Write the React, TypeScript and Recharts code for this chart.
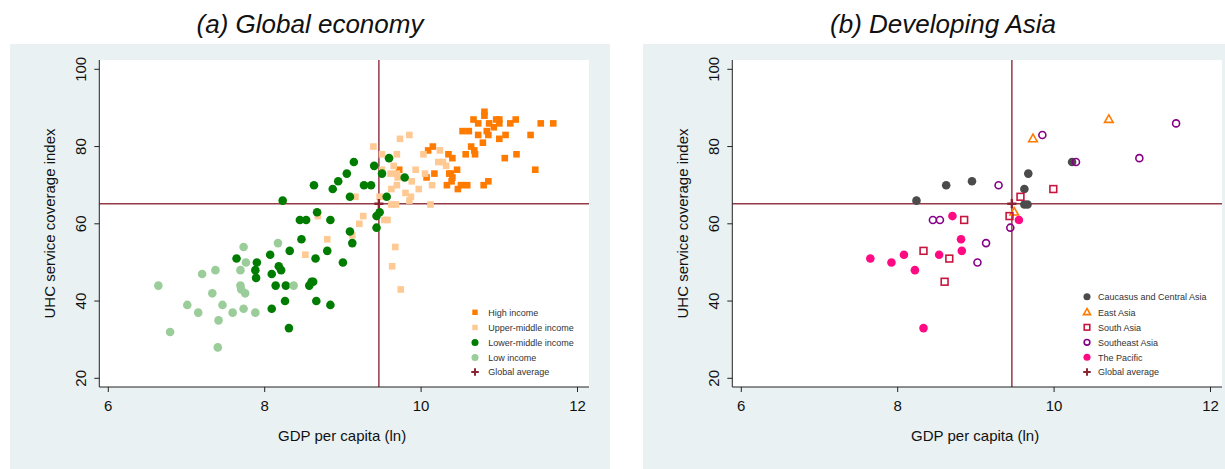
import React from 'react';
import { ScatterChart, Scatter, XAxis, YAxis, ReferenceLine } from 'recharts';

type Pt = [number, number];

// ---------- Data ----------
const xTicks = [6, 8, 10, 12];
const yTicks = [20, 40, 60, 80, 100];
const globalAverage: Pt[] = [[9.46, 65.2]];

// Panel (a) Global economy
const highIncome: Pt[] = [
  [10.81, 89], [10.81, 88], [10.67, 87], [10.96, 87], [11.0, 87], [11.21, 87], [11.53, 86], [11.69, 86],
  [10.73, 86], [10.87, 86], [11.0, 86], [11.14, 86], [10.93, 85], [10.53, 84], [10.61, 84], [10.73, 83],
  [10.86, 83], [10.84, 84], [11.08, 83], [11.4, 83], [11.0, 82], [10.79, 81], [10.64, 80], [10.68, 79],
  [10.69, 78], [10.57, 78], [11.07, 77], [11.22, 78], [10.09, 79], [10.15, 80], [10.35, 78], [10.4, 77],
  [11.46, 74], [9.72, 74], [10.46, 74], [10.17, 73], [10.36, 73], [10.4, 72], [10.07, 72], [10.39, 71],
  [10.33, 70], [10.47, 69], [10.51, 70], [10.59, 70], [10.8, 70], [10.86, 71], [10.38, 73],
];
const upperMiddleIncome: Pt[] = [
  [9.39, 80], [9.5, 78], [9.69, 78], [9.73, 82], [9.85, 83], [10.03, 78], [10.24, 79], [10.22, 76],
  [10.28, 76], [10.32, 75], [9.93, 74], [9.65, 75], [9.5, 74], [9.61, 73], [9.69, 73], [10.05, 73],
  [9.7, 72], [9.88, 71], [9.69, 70], [10.14, 70], [9.62, 69], [9.97, 69], [9.8, 68], [9.87, 67],
  [9.85, 66], [9.62, 65], [9.68, 65], [10.12, 65], [9.16, 67], [9.47, 67], [9.26, 62], [9.21, 60],
  [9.53, 61], [9.57, 61], [9.12, 57], [8.8, 56], [8.68, 62], [8.52, 52], [9.67, 54], [9.63, 49], [9.74, 43],
];
const lowerMiddleIncome: Pt[] = [
  [8.63, 70], [8.94, 71], [8.87, 69], [9.05, 73], [9.14, 76], [9.4, 75], [9.27, 70], [9.36, 70],
  [9.5, 73], [9.59, 77], [9.79, 72], [9.09, 67], [9.56, 67], [8.23, 66], [8.67, 63], [8.45, 61],
  [8.53, 61], [8.84, 61], [9.47, 63], [9.43, 62], [9.43, 59], [9.09, 58], [9.12, 55], [8.47, 56],
  [8.32, 53], [8.8, 53], [8.65, 51], [9.0, 50], [8.07, 52], [7.64, 51], [7.9, 50], [7.88, 48],
  [7.89, 46], [8.09, 47], [8.18, 49], [8.21, 48], [8.14, 44], [8.27, 44], [8.57, 44], [8.6, 45],
  [8.62, 45], [8.26, 40], [8.66, 40], [8.84, 39], [8.09, 38], [8.31, 33],
];
const lowIncome: Pt[] = [
  [6.64, 44], [6.79, 32], [7.01, 39], [7.15, 37], [7.2, 47], [7.33, 42], [7.37, 48], [7.41, 35],
  [7.46, 39], [7.4, 28], [7.59, 37], [7.69, 48], [7.69, 44], [7.7, 43], [7.75, 42], [7.73, 54],
  [7.76, 50], [7.73, 38], [7.88, 37], [8.17, 55], [8.37, 44],
];

// Panel (b) Developing Asia
const caucasusCentralAsia: Pt[] = [
  [8.24, 66], [8.62, 70], [8.95, 71], [9.67, 73], [9.62, 69], [9.62, 65], [9.66, 65], [10.23, 76],
];
const eastAsia: Pt[] = [[9.73, 82], [10.7, 87], [9.49, 63]];
const southAsia: Pt[] = [
  [9.99, 69], [9.57, 67], [9.43, 62], [8.85, 61], [8.33, 53], [8.66, 51], [8.6, 45],
];
const southeastAsia: Pt[] = [
  [9.85, 83], [11.56, 86], [10.28, 76], [11.09, 77], [9.29, 70], [8.45, 61], [8.54, 61], [9.44, 59],
  [9.13, 55], [9.02, 50],
];
const thePacific: Pt[] = [
  [8.7, 62], [9.55, 61], [8.81, 56], [8.82, 53], [8.53, 52], [8.08, 52], [7.65, 51], [7.92, 50],
  [8.22, 48], [8.33, 33],
];

// ---------- Styling ----------
const FONT = '"Liberation Sans", Arial, Helvetica, sans-serif';
const GRAY_BG = '#e9f1f3';
const AVG_LINE = '#943b48';
const AVG_MARK = '#8a2433';
const X_DOMAIN: [number, number] = [5.885, 12.147];
const Y_DOMAIN: [number, number] = [17.75, 102.41];
const PANEL_W = 600;
const PANEL_H = 425;
const PANEL_TOP = 44;
const PLOT_LEFT = 89.3;
const PLOT_TOP = 16;
const PLOT_W = 489.7;
const PLOT_H = 327;
const Y_AXIS_W = 60;
const X_AXIS_H = 30;
const MARGIN = {
  top: PLOT_TOP,
  left: PLOT_LEFT - Y_AXIS_W,
  right: PANEL_W - PLOT_LEFT - PLOT_W,
  bottom: PANEL_H - PLOT_TOP - PLOT_H - X_AXIS_H,
};

type Kind = 'fsquare' | 'fcircle' | 'hcircle' | 'hsquare' | 'htriangle' | 'plus';

const drawMarker = (kind: Kind, color: string, cx: number, cy: number, s = 1) => {
  switch (kind) {
    case 'fsquare': {
      const a = 6.6 * s;
      return <rect x={cx - a / 2} y={cy - a / 2} width={a} height={a} fill={color} />;
    }
    case 'fcircle':
      return <circle cx={cx} cy={cy} r={4.3 * s} fill={color} />;
    case 'hcircle':
      return <circle cx={cx} cy={cy} r={3.5 * s} fill="none" stroke={color} strokeWidth={1.6} />;
    case 'hsquare': {
      const a = 6.8 * s;
      return <rect x={cx - a / 2} y={cy - a / 2} width={a} height={a} fill="none" stroke={color} strokeWidth={1.6} />;
    }
    case 'htriangle': {
      const h = 7.5 * s;
      const w = 8.6 * s;
      const pts = `${cx},${cy - h * 0.62} ${cx + w / 2},${cy + h * 0.38} ${cx - w / 2},${cy + h * 0.38}`;
      return <polygon points={pts} fill="none" stroke={color} strokeWidth={1.6} strokeLinejoin="miter" />;
    }
    case 'plus': {
      const a = 4.6 * s;
      return (
        <g stroke={color} strokeWidth={2.4 * s}>
          <line x1={cx - a} y1={cy} x2={cx + a} y2={cy} />
          <line x1={cx} y1={cy - a} x2={cx} y2={cy + a} />
        </g>
      );
    }
  }
  return null;
};

const shapeOf = (kind: Kind, color: string) => (props: any) =>
  drawMarker(kind, color, props.cx, props.cy);

type Series = { name: string; data: Pt[]; kind: Kind; color: string };

const panelASeries: Series[] = [
  { name: 'High income', data: highIncome, kind: 'fsquare', color: '#ff7b00' },
  { name: 'Upper-middle income', data: upperMiddleIncome, kind: 'fsquare', color: '#ffc994' },
  { name: 'Lower-middle income', data: lowerMiddleIncome, kind: 'fcircle', color: '#007d00' },
  { name: 'Low income', data: lowIncome, kind: 'fcircle', color: '#9acd9a' },
  { name: 'Global average', data: globalAverage, kind: 'plus', color: AVG_MARK },
];
const panelBSeries: Series[] = [
  { name: 'Caucasus and Central Asia', data: caucasusCentralAsia, kind: 'fcircle', color: '#4b4b4b' },
  { name: 'East Asia', data: eastAsia, kind: 'htriangle', color: '#ff7b00' },
  { name: 'South Asia', data: southAsia, kind: 'hsquare', color: '#c8153f' },
  { name: 'Southeast Asia', data: southeastAsia, kind: 'hcircle', color: '#870087' },
  { name: 'The Pacific', data: thePacific, kind: 'fcircle', color: '#ff0a82' },
  { name: 'Global average', data: globalAverage, kind: 'plus', color: AVG_MARK },
];

const XTick = (props: any) => {
  const { x, y, payload } = props;
  return (
    <text x={x} y={y} dy="0.72em" textAnchor="middle" fontSize={15} fill="#111" fontFamily={FONT}>
      {payload.value}
    </text>
  );
};
const YTick = (props: any) => {
  const { x, y, payload } = props;
  return (
    <text x={x} y={y} transform={`rotate(-90 ${x} ${y})`} textAnchor="middle" fontSize={15} fill="#111" fontFamily={FONT}>
      {payload.value}
    </text>
  );
};

type PanelProps = {
  left: number;
  title: string;
  series: Series[];
  legendMarkerX: number;
  legendTextX: number;
  legendRows: number[];
};

const Panel = ({ left, title, series, legendMarkerX, legendTextX, legendRows }: PanelProps) => {
  const avg = globalAverage[0];
  return (
    <>
      <div style={{ position: 'absolute', left, top: PANEL_TOP, width: PANEL_W, height: PANEL_H, background: GRAY_BG }} />
      <div style={{ position: 'absolute', left: left + PLOT_LEFT, top: PANEL_TOP + PLOT_TOP, width: PLOT_W, height: PLOT_H, background: '#fff' }} />
      <div style={{ position: 'absolute', left, top: PANEL_TOP }}>
        <ScatterChart width={PANEL_W} height={PANEL_H} margin={MARGIN}>
          <XAxis
            type="number"
            dataKey="x"
            domain={X_DOMAIN}
            ticks={xTicks}
            allowDataOverflow
            height={X_AXIS_H}
            tickSize={5}
            tickMargin={8}
            stroke="#222"
            tick={<XTick />}
          />
          <YAxis
            type="number"
            dataKey="y"
            domain={Y_DOMAIN}
            ticks={yTicks}
            allowDataOverflow
            width={Y_AXIS_W}
            tickSize={5}
            tickMargin={8}
            stroke="#222"
            tick={<YTick />}
          />
          <ReferenceLine x={avg[0]} stroke={AVG_LINE} strokeWidth={1.5} />
          <ReferenceLine y={avg[1]} stroke={AVG_LINE} strokeWidth={1.5} />
          {series.map((s) => (
            <Scatter
              key={s.name}
              name={s.name}
              data={s.data.map(([x, y]) => ({ x, y }))}
              shape={shapeOf(s.kind, s.color)}
              isAnimationActive={false}
            />
          ))}
        </ScatterChart>
      </div>
      <svg
        style={{ position: 'absolute', left, top: 0, pointerEvents: 'none' }}
        width={PANEL_W}
        height={469}
      >
        <text x={300} y={33} textAnchor="middle" fontSize={26} fontStyle="italic" fill="#111" fontFamily={FONT}>
          {title}
        </text>
        <text
          x={45}
          y={PANEL_TOP + PLOT_TOP + PLOT_H / 2}
          transform={`rotate(-90 45 ${PANEL_TOP + PLOT_TOP + PLOT_H / 2})`}
          textAnchor="middle"
          fontSize={15}
          fill="#111"
          fontFamily={FONT}
        >
          UHC service coverage index
        </text>
        <text x={PLOT_LEFT + PLOT_W / 2 - 2} y={441} textAnchor="middle" fontSize={15} fill="#111" fontFamily={FONT}>
          GDP per capita (ln)
        </text>
        {series.map((s, i) => (
          <g key={s.name}>
            {drawMarker(s.kind, s.color, legendMarkerX - left, legendRows[i], 0.82)}
            <text x={legendTextX - left} y={legendRows[i] + 3.3} fontSize={9} fill="#333" fontFamily={FONT}>
              {s.name}
            </text>
          </g>
        ))}
      </svg>
    </>
  );
};

export default function App() {
  return (
    <div style={{ position: 'absolute', left: 0, top: 0, width: 1225, height: 469, overflow: 'hidden', background: '#fff' }}>
      <Panel
        left={10}
        title="(a) Global economy"
        series={panelASeries}
        legendMarkerX={475}
        legendTextX={488.3}
        legendRows={[312.3, 327.5, 342.5, 357.5, 372]}
      />
      <Panel
        left={642.7}
        title="(b) Developing Asia"
        series={panelBSeries}
        legendMarkerX={1086.7}
        legendTextX={1097.7}
        legendRows={[296.7, 312.3, 327.3, 342.3, 357.3, 372]}
      />
    </div>
  );
}
